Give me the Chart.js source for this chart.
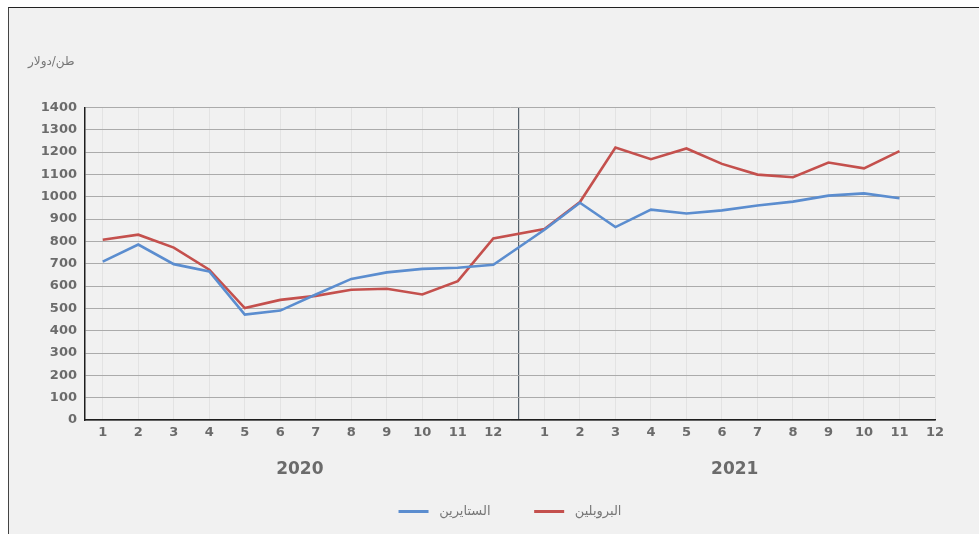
<!DOCTYPE html>
<html>
<head>
<meta charset="utf-8">
<script src="https://cdn.jsdelivr.net/npm/chart.js@4.4.1/dist/chart.umd.min.js"></script>
<style>
  html, body { margin: 0; padding: 0; background: #ffffff; width: 979px; height: 534px; overflow: hidden; }
  #frame { position: absolute; left: 8px; top: 7px; width: 971px; height: 527px;
           border-left: 1px solid #444; border-top: 1px solid #222; background: #f1f1f1; }
  canvas { display: block; }
</style>
</head>
<body>
<div id="frame"><canvas id="c" width="970" height="526"></canvas></div>
<script>
// ---- data ----
const months2020 = [1, 2, 3, 4, 5, 6, 7, 8, 9, 10, 11, 12];
const months2021 = [1, 2, 3, 4, 5, 6, 7, 8, 9, 10, 11, 12];
const years = ['2020', '2021'];
const seriesNames = ['الستايرين', 'البروبلين'];
const unitLabel = 'دولار\u200E/\u200Eطن';
const styrene2020   = [709, 786, 698, 665, 472, 490, 562, 632, 661, 677, 682, 695];
const styrene2021   = [852, 973, 864, 942, 925, 939, 961, 978, 1005, 1015, 993];
const propylene2020 = [807, 830, 772, 673, 501, 538, 556, 583, 588, 562, 622, 813];
const propylene2021 = [855, 976, 1220, 1168, 1216, 1147, 1099, 1087, 1153, 1127, 1204];

// ---- axis geometry (category positions on a linear axis) ----
const yearGap = 0.44;                       // extra space between the two years
const pos2020 = months2020.map(m => m);
const pos2021 = months2021.map(m => m + 12 + yearGap);
const dividerPos = (pos2020[11] + pos2021[0]) / 2;
const xMin = 0.5, xMax = pos2021[11];
const yearLabelPos = [6.55, 18.8];

const tickItems = [];
pos2020.forEach((p, i) => tickItems.push({ value: p, label: String(months2020[i]) }));
tickItems.push({ value: dividerPos, label: '', divider: true });
pos2021.forEach((p, i) => tickItems.push({ value: p, label: String(months2021[i]) }));

function series(vals2020, vals2021) {
  const pts = [];
  vals2020.forEach((v, i) => pts.push({ x: pos2020[i], y: v }));
  vals2021.forEach((v, i) => pts.push({ x: pos2021[i], y: v }));
  return pts;
}

const tickFont = { family: 'DejaVu Sans', size: 13, weight: 'bold' };
const grey = '#6b6b6b';
const isDivider = c => c.tick && Math.abs(c.tick.value - dividerPos) < 1e-6;
const NB = '\u00A0';

new Chart(document.getElementById('c'), {
  type: 'line',
  data: {
    datasets: [
      { label: seriesNames[0], data: series(styrene2020, styrene2021),
        borderColor: '#5b8dcf', backgroundColor: '#5b8dcf', borderWidth: 2.6,
        pointRadius: 0, tension: 0 },
      { label: seriesNames[1], data: series(propylene2020, propylene2021),
        borderColor: '#c4504d', backgroundColor: '#c4504d', borderWidth: 2.6,
        pointRadius: 0, tension: 0 }
    ]
  },
  options: {
    responsive: false,
    animation: false,
    layout: { padding: { left: 19, right: 44, top: 0, bottom: 6 } },
    plugins: {
      title: { display: true, text: unitLabel, align: 'start', color: '#777',
               font: { family: 'DejaVu Sans', size: 12, weight: 'normal' },
               padding: { top: 47, bottom: 38 } },
      legend: { position: 'bottom', fullSize: false,
                labels: { boxWidth: 30, boxHeight: 3, color: '#777', padding: 23,
                          font: { family: 'DejaVu Sans', size: 13 },
                          generateLabels: chart => Chart.defaults.plugins.legend.labels.generateLabels(chart)
                            .map((l, i) => Object.assign(l, {
                              lineWidth: 0,
                              text: NB + l.text + (i === 0 ? NB.repeat(5) : '')
                            })) } },
      tooltip: { enabled: false }
    },
    scales: {
      x: {
        type: 'linear', position: 'bottom', min: xMin, max: xMax,
        afterBuildTicks: s => { s.ticks = tickItems.map(t => ({ value: t.value })); },
        afterFit: s => { s.height = 30; },
        grid: {
          drawTicks: false,
          color: c => isDivider(c) ? '#56616b' : '#e3e3e3',
          lineWidth: c => isDivider(c) ? 1.2 : 1
        },
        border: { color: '#1e1e1e', width: 1.5 },
        ticks: {
          autoSkip: false, maxRotation: 0, padding: 5, color: grey, font: tickFont,
          callback: v => { const t = tickItems.find(t => Math.abs(t.value - v) < 1e-6); return t ? t.label : ''; }
        }
      },
      x2: {
        type: 'linear', position: 'bottom', min: xMin, max: xMax,
        afterBuildTicks: s => { s.ticks = yearLabelPos.map(v => ({ value: v })); },
        afterFit: s => { s.height = 32; },
        grid: { display: false, drawTicks: false },
        border: { display: false },
        ticks: {
          autoSkip: false, maxRotation: 0, padding: 9, color: grey,
          font: { family: 'DejaVu Sans', size: 17, weight: 'bold' },
          callback: (v, i) => years[i]
        }
      },
      y: {
        min: 0, max: 1400,
        afterFit: s => { s.width = 57; },
        grid: { drawTicks: false, color: '#ababab', lineWidth: 1 },
        border: { color: '#1e1e1e', width: 1.5 },
        ticks: { stepSize: 100, padding: 8, color: grey, font: tickFont,
                 callback: v => String(v) }
      }
    }
  }
});
</script>
</body>
</html>
